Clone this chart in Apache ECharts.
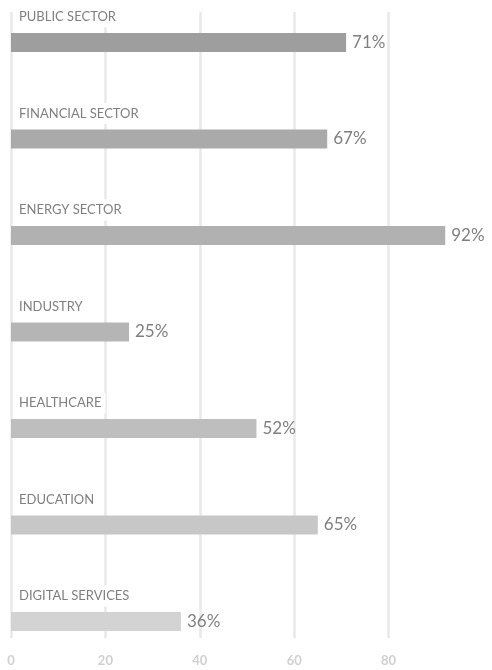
<!DOCTYPE html>
<html>
<head>
<meta charset="utf-8">
<script src="https://cdn.jsdelivr.net/npm/echarts@6/dist/echarts.min.js"></script>
<style>
  html, body { margin: 0; padding: 0; background: #fff; }
  #chart { width: 492px; height: 670px; }
</style>
</head>
<body>
<div id="chart"></div>
<script>
// data
const categories = ['PUBLIC SECTOR', 'FINANCIAL SECTOR', 'ENERGY SECTOR', 'INDUSTRY', 'HEALTHCARE', 'EDUCATION', 'DIGITAL SERVICES'];
const shares = [71, 67, 92, 25, 52, 65, 36];
const tickValues = [0, 20, 40, 60, 80];

// bar shades, darkest on top
const barColors = ['#9e9e9e', '#aaaaaa', '#b1b1b1', '#b5b5b5', '#bebebe', '#c7c7c7', '#d3d3d3'];

const FONT = 'Lato, "Open Sans", sans-serif';
const gridLine = '#e9e9e9';

var myChart = echarts.init(document.getElementById('chart'));
myChart.setOption({
  animation: false,
  grid: [
    // background grid: only carries the vertical lines + tick labels
    { left: 11, right: 9, top: 12, bottom: 32 },
    // bars: categories as points so the first/last sit where the picture has them
    { left: 11, right: 9, top: 42.5, bottom: 48.5 }
  ],
  xAxis: [
    {
      gridIndex: 0,
      type: 'value',
      min: 0,
      max: 100,
      interval: 20,
      axisLine: { show: false },
      axisTick: { show: false },
      splitLine: {
        show: true,
        lineStyle: {
          width: 2.5,
          color: [gridLine, gridLine, gridLine, gridLine, gridLine, 'rgba(0,0,0,0)']
        }
      },
      axisLabel: {
        margin: 16,
        fontFamily: FONT,
        fontSize: 13,
        fontWeight: 'bold',
        color: '#d0d0d0',
        formatter(val) {
          return tickValues.indexOf(val) >= 0 ? String(val) : '';
        }
      }
    },
    {
      gridIndex: 1,
      type: 'value',
      min: 0,
      max: 100,
      show: false
    }
  ],
  yAxis: [
    {
      gridIndex: 0,
      type: 'value',
      show: false
    },
    {
      gridIndex: 1,
      type: 'category',
      data: categories,
      inverse: true,
      boundaryGap: false,
      show: false
    }
  ],
  series: [
    {
      type: 'bar',
      xAxisIndex: 1,
      yAxisIndex: 1,
      barWidth: 19,
      data: shares.map(function (v, i) {
        return { value: v, itemStyle: { color: barColors[i] } };
      }),
      label: {
        show: true,
        position: 'right',
        distance: 6,
        formatter: '{c}%',
        fontFamily: FONT,
        fontSize: 17,
        color: '#7f7f7f'
      }
    },
    {
      // invisible twin, only used to put the category names above each bar
      type: 'bar',
      xAxisIndex: 1,
      yAxisIndex: 1,
      barWidth: 19,
      barGap: '-100%',
      data: shares,
      itemStyle: { color: 'rgba(0,0,0,0)' },
      label: {
        show: true,
        position: [4, -16],
        align: 'left',
        verticalAlign: 'middle',
        formatter(p) { return p.name; },
        fontFamily: FONT,
        fontSize: 13,
        color: '#7f7f7f',
        backgroundColor: '#fff',
        padding: [4, 4, 4, 4]
      },
      silent: true
    }
  ]
});
</script>
</body>
</html>
